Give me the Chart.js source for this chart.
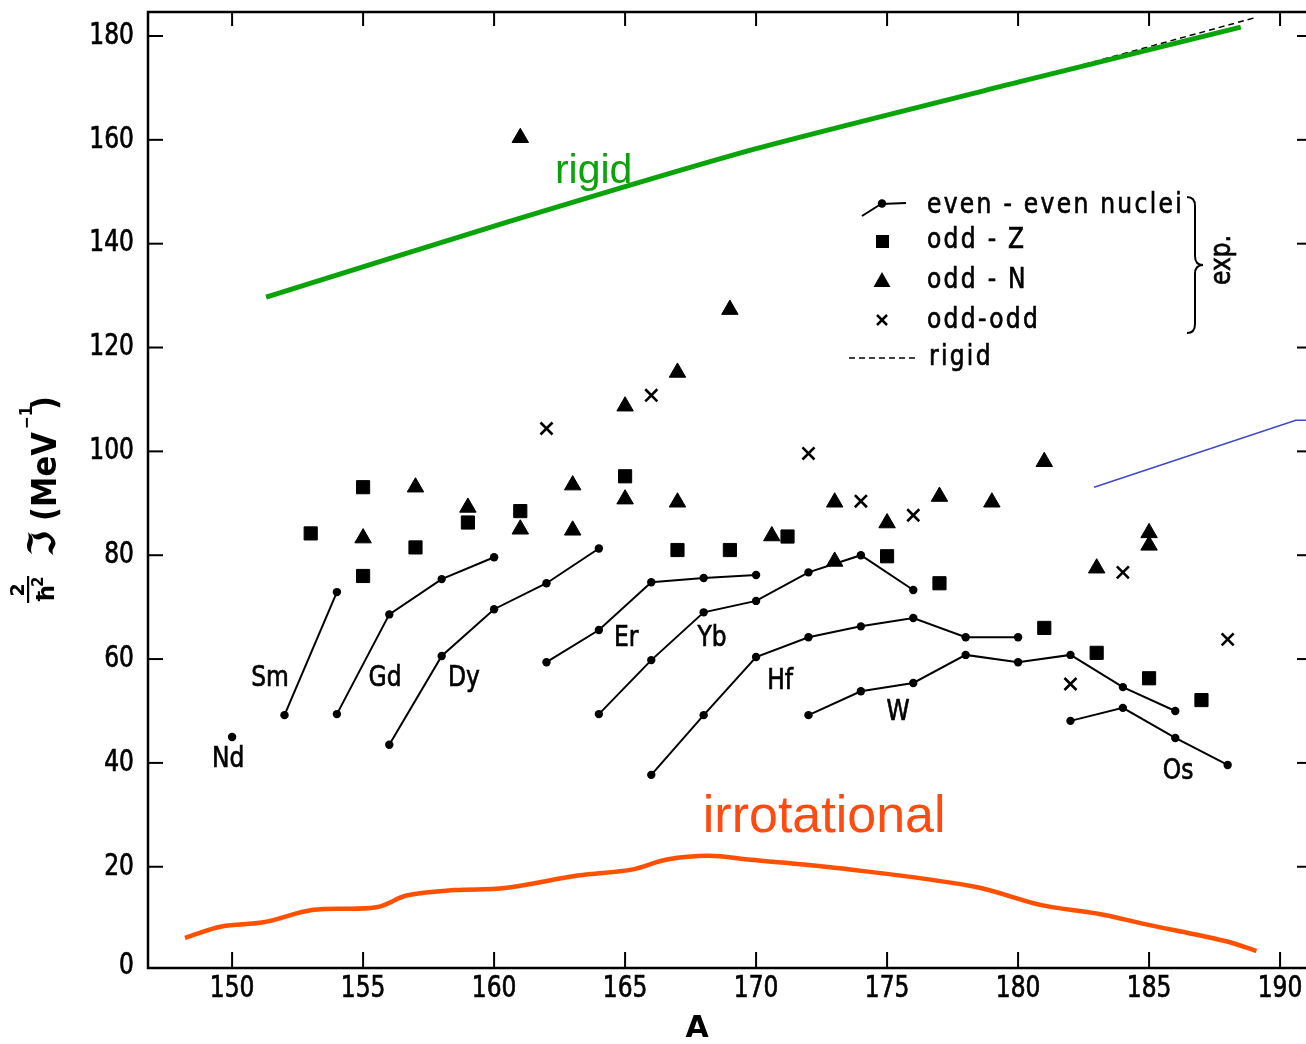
<!DOCTYPE html>
<html><head><meta charset="utf-8">
<script src="https://cdn.jsdelivr.net/npm/chart.js@4.4.1/dist/chart.umd.min.js"></script>
<style>html,body{margin:0;padding:0;background:#fff;} canvas{display:block;}</style>
</head><body>
<canvas id="c" width="1306" height="1044"></canvas>
<script>
// ---- axis ticks ----
const xTickValues = [150,155,160,165,170,175,180,185,190];
const yTickValues = [0,20,40,60,80,100,120,140,160,180];

// ---- even-even nuclei (A, moment of inertia 2J/hbar^2 in MeV^-1) ----
const ndA = [150],                          ndJ = [45.0];
const smA = [152,154],                      smJ = [49.2,72.9];
const gdA = [154,156,158,160],              gdJ = [49.4,68.6,75.4,79.6];
const dyA = [156,158,160,162,164],          dyJ = [43.5,60.6,69.6,74.6,81.3];
const erA = [162,164,166,168,170],          erJ = [59.4,65.6,74.8,75.6,76.2];
const ybA = [164,166,168,170,172,174,176],  ybJ = [49.4,59.8,69.0,71.2,76.7,80.0,73.3];
const hfA = [166,168,170,172,174,176,178,180], hfJ = [37.7,49.2,60.4,64.2,66.3,67.9,64.2,64.2];
const wA  = [172,174,176,178,180,182,184,186], wJ  = [49.2,53.8,55.4,60.8,59.4,60.8,54.6,50.0];
const osA = [182,184,186,188],              osJ = [48.1,50.6,44.8,39.6];

// ---- odd-Z (squares) ----
const oddZA = [153,155,155,157,159,161,165,167,169,171.2,175,177,181,183,185,187];
const oddZJ = [84.2,93.1,76.0,81.5,86.3,88.5,95.2,81.0,81.0,83.6,79.8,74.6,66.0,61.2,56.3,52.1];
// ---- odd-N (triangles) ----
const oddNA = [155,157,159,161,161,163,163,165,165,167,167,169,170.6,173,173,175,177,179,181,183,185,185];
const oddNJ = [83.3,93.1,89.2,85.0,160.4,93.5,84.8,108.7,90.8,115.2,90.2,127.3,83.7,90.2,78.8,86.2,91.3,90.2,98.0,77.5,84.3,81.9];
// ---- odd-odd (crosses) ----
const oddOA = [162,166,172,174,176,182,184,188];
const oddOJ = [104.4,110.8,99.6,90.4,87.7,55.2,76.7,63.8];

// ---- rigid-body estimate ----
const rigidA = [151.3,160.4,170.0,180.0,188.5];
const rigidJ = [129.7,144.0,158.3,171.1,181.7];
const rigidDashA = [151.3,160.4,170.0,180.0,189.1];
const rigidDashJ = [129.7,144.0,158.3,171.1,183.6];
// ---- irrotational estimate ----
const irrA = [148.2,149.6,151.2,153.1,155.5,156.7,158.5,160.4,163.2,165.3,166.6,168.2,169.7,173.2,178.3,180.9,183.1,184.8,187.9,189.1];
const irrJ = [6.3,8.5,9.3,11.7,12.2,14.5,15.5,15.9,18.3,19.5,21.4,22.1,21.4,19.7,16.2,12.6,10.9,9.0,5.7,3.8];
// ---- blue pointer line ----
const blueA = [182.9,190.6,191.2];
const blueJ = [93.1,106.0,106.0];

// ---- element names ----
const elemNames = ['Nd','Sm','Gd','Dy','Er','Yb','Hf','W','Os'];
const elemA = [149.85,151.45,155.84,158.85,165.04,168.32,170.92,175.42,186.11];
const elemJ = [40.6,56.2,56.2,56.2,63.9,63.9,55.7,49.7,38.3];

const pts = (xs, ys) => xs.map((x, i) => ({x: x, y: ys[i]}));

const chainStyle = {showLine:true, borderColor:'#000', borderWidth:2, pointRadius:4.2,
  pointBackgroundColor:'#000', pointBorderColor:'#000', pointBorderWidth:0, order:1};

const datasets = [
  Object.assign({data: pts(ndA, ndJ)}, chainStyle),
  Object.assign({data: pts(smA, smJ)}, chainStyle),
  Object.assign({data: pts(gdA, gdJ)}, chainStyle),
  Object.assign({data: pts(dyA, dyJ)}, chainStyle),
  Object.assign({data: pts(erA, erJ)}, chainStyle),
  Object.assign({data: pts(ybA, ybJ)}, chainStyle),
  Object.assign({data: pts(hfA, hfJ)}, chainStyle),
  Object.assign({data: pts(wA, wJ)}, chainStyle),
  Object.assign({data: pts(osA, osJ)}, chainStyle),
  {data: pts(oddZA, oddZJ), pointStyle:'rect', pointRadius:9.3, backgroundColor:'#000', borderColor:'#000', borderWidth:1, order:0},
  {data: pts(oddNA, oddNJ), pointStyle:'triangle', pointRadius:9.5, backgroundColor:'#000', borderColor:'#000', borderWidth:1, order:0},
  {data: pts(oddOA, oddOJ), pointStyle:'crossRot', pointRadius:8.5, backgroundColor:'#000', borderColor:'#000', borderWidth:2.6, order:0},
  {data: pts(rigidA, rigidJ), showLine:true, borderColor:'#0aa30a', borderWidth:5, pointRadius:0, tension:0.2, order:2},
  {data: pts(rigidDashA, rigidDashJ), showLine:true, borderColor:'#000', borderWidth:1.5, borderDash:[6,4], pointRadius:0, tension:0.2, order:3},
  {data: pts(irrA, irrJ), showLine:true, borderColor:'#ff5000', borderWidth:4.5, pointRadius:0, tension:0.35, order:2},
  {data: pts(blueA, blueJ), showLine:true, borderColor:'#3f48cc', borderWidth:1.6, pointRadius:0, order:2, clip:false}
];

function ln(ctx, x1, y1, x2, y2) { ctx.beginPath(); ctx.moveTo(x1, y1); ctx.lineTo(x2, y2); ctx.stroke(); }

// draw text slightly taller (condensed DIN-like look) and a little heavier
function tallText(ctx, txt, x, y, sy) {
  ctx.save();
  ctx.translate(x, y); ctx.scale(1, sy);
  ctx.lineWidth = 0.6; ctx.strokeStyle = ctx.fillStyle;
  ctx.fillText(txt, 0, 0); ctx.strokeText(txt, 0, 0);
  ctx.restore();
}

const overlay = {
  id: 'overlay',
  afterDatasetsDraw(chart) {
    const ctx = chart.ctx, xs = chart.scales.x, ys = chart.scales.y, a = chart.chartArea;
    ctx.save();
    ctx.strokeStyle = '#000'; ctx.fillStyle = '#000';
    // frame
    ctx.lineWidth = 2.5;
    ctx.beginPath();
    ctx.moveTo(a.right + 2, a.top); ctx.lineTo(a.left, a.top); ctx.lineTo(a.left, a.bottom); ctx.lineTo(a.right + 2, a.bottom);
    ctx.stroke();
    // ticks
    ctx.lineWidth = 2;
    xTickValues.forEach(v => {
      const px = xs.getPixelForValue(v);
      ln(ctx, px, a.bottom, px, a.bottom - 16);
      ln(ctx, px, a.top, px, a.top + 14);
    });
    yTickValues.forEach(v => {
      if (v === 0) return;
      const py = ys.getPixelForValue(v);
      ln(ctx, a.left, py, a.left + 15, py);
      ln(ctx, a.right, py, a.right - 9, py);
    });
    // tick labels
    ctx.font = '26px "DejaVu Sans Condensed"';
    ctx.textBaseline = 'middle';
    ctx.textAlign = 'center';
    xTickValues.forEach(v => tallText(ctx, String(v), xs.getPixelForValue(v), a.bottom + 21, 1.15));
    ctx.textAlign = 'right';
    yTickValues.forEach(v => tallText(ctx, String(v), a.left - 14, v === 0 ? a.bottom - 2 : ys.getPixelForValue(v), 1.15));
    // element names
    ctx.font = '26px "DejaVu Sans Condensed"';
    ctx.textAlign = 'center';
    elemNames.forEach((n, i) => tallText(ctx, n, xs.getPixelForValue(elemA[i]), ys.getPixelForValue(elemJ[i]), 1.12));
    // curve labels
    ctx.fillStyle = '#0aa30a';
    ctx.font = '41px "Liberation Sans"';
    ctx.fillText('rigid', xs.getPixelForValue(163.8), ys.getPixelForValue(153.8));
    ctx.fillStyle = '#ff4a10';
    ctx.font = '52px "Liberation Sans"';
    ctx.fillText('irrotational', xs.getPixelForValue(172.6), ys.getPixelForValue(29.5));
    // x title
    ctx.fillStyle = '#000';
    ctx.font = 'bold 30px "DejaVu Sans"';
    ctx.fillText('A', 697, 1029);
    // legend
    ctx.lineWidth = 2;
    ln(ctx, 862, 216, 881, 204); ln(ctx, 881, 204, 906, 203);
    ctx.beginPath(); ctx.arc(882, 203.5, 4.2, 0, Math.PI * 2); ctx.fill();
    ctx.fillRect(876, 235, 13, 13);
    ctx.beginPath(); ctx.moveTo(882, 272); ctx.lineTo(890.5, 287); ctx.lineTo(873.5, 287); ctx.closePath(); ctx.fill();
    ctx.lineWidth = 2.5;
    ln(ctx, 877, 315, 887, 325); ln(ctx, 887, 315, 877, 325);
    ctx.lineWidth = 1.6; ctx.setLineDash([6, 4]);
    ln(ctx, 849, 358, 917, 358);
    ctx.setLineDash([]);
    ctx.font = '26px "DejaVu Sans Condensed"';
    ctx.textAlign = 'left';
    ctx.letterSpacing = '2.3px';
    tallText(ctx, 'even - even nuclei', 927, 205, 1.12);
    tallText(ctx, 'odd - Z', 927, 240, 1.12);
    tallText(ctx, 'odd - N', 927, 280, 1.12);
    tallText(ctx, 'odd-odd', 927, 320, 1.12);
    tallText(ctx, 'rigid', 929, 357, 1.12);
    ctx.letterSpacing = '0px';
    // brace
    ctx.lineWidth = 2;
    ctx.beginPath();
    ctx.moveTo(1187, 197); ctx.quadraticCurveTo(1195, 197, 1195, 206);
    ctx.lineTo(1195, 256); ctx.quadraticCurveTo(1195, 265, 1203, 265);
    ctx.quadraticCurveTo(1195, 265, 1195, 274);
    ctx.lineTo(1195, 324); ctx.quadraticCurveTo(1195, 333, 1187, 333);
    ctx.stroke();
    ctx.save();
    ctx.translate(1222, 260); ctx.rotate(-Math.PI / 2);
    ctx.textAlign = 'center'; ctx.textBaseline = 'middle';
    tallText(ctx, 'exp.', 0, 0, 1.12);
    ctx.restore();
    // y title (rotated)
    ctx.save();
    ctx.translate(56, 606); ctx.rotate(-Math.PI / 2);
    ctx.textBaseline = 'alphabetic';
    ctx.textAlign = 'center';
    ctx.font = 'bold 19px "DejaVu Sans"';
    ctx.fillText('2', 16, -32);
    ctx.fillRect(3, -29, 27, 2.2);
    ctx.textAlign = 'left';
    ctx.font = 'bold 23px "DejaVu Sans"';
    ctx.fillText('ħ', 3, -2);
    ctx.font = 'bold 15px "DejaVu Sans"';
    ctx.fillText('2', 19, -13);
    ctx.font = 'bold 38px "DejaVu Sans"';
    ctx.fillText('ℑ', 49, -1);
    ctx.font = 'bold 34px "DejaVu Sans Condensed"';
    ctx.fillText('(MeV', 85, 0);
    ctx.font = 'bold 17px "DejaVu Sans Condensed"';
    ctx.fillText('−1', 177, -24);
    ctx.font = 'bold 34px "DejaVu Sans Condensed"';
    ctx.fillText(')', 196, 0);
    ctx.restore();
    ctx.restore();
  }
};

const zeroPad = s => { s.paddingTop = 0; s.paddingBottom = 0; s.paddingLeft = 0; s.paddingRight = 0; };

new Chart(document.getElementById('c'), {
  type: 'scatter',
  data: { datasets: datasets },
  options: {
    responsive: false, animation: false,
    layout: { autoPadding: false, padding: { top: 12, right: 0, bottom: 0, left: 0 } },
    plugins: { legend: { display: false }, tooltip: { enabled: false } },
    scales: {
      x: {
        type: 'linear', min: 146.79, max: 190.99,
        grid: { display: false, drawTicks: false }, border: { display: false },
        afterBuildTicks: s => { s.ticks = xTickValues.map(v => ({value: v})); },
        afterFit: s => { s.height = 1044 - 968; zeroPad(s); },
        ticks: { display: false }
      },
      y: {
        type: 'linear', min: 0.5, max: 184.62,
        grid: { display: false, drawTicks: false }, border: { display: false },
        afterBuildTicks: s => { s.ticks = yTickValues.map(v => ({value: v})); },
        afterFit: s => { s.width = 148; zeroPad(s); },
        ticks: { display: false }
      }
    }
  },
  plugins: [overlay]
});
</script>
</body></html>
